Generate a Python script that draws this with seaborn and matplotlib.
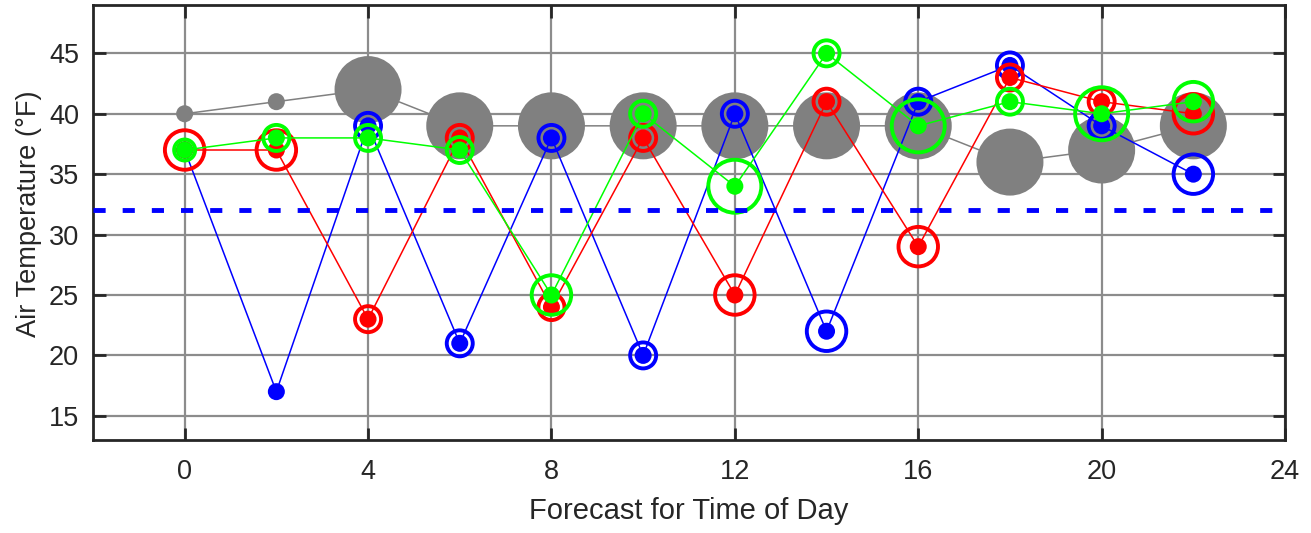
import numpy as np
import pandas as pd
import matplotlib
matplotlib.use("Agg")
import matplotlib.pyplot as plt
import seaborn as sns

# ---- data ----
hours = [0, 2, 4, 6, 8, 10, 12, 14, 16, 18, 20, 22]

gray_temp = [40, 41, 42, 39, 39, 39, 39, 39, 39, 36, 37, 39]
gray_size = [1, 1, 4, 4, 4, 4, 4, 4, 4, 4, 4, 4]

red_temp = [37, 37, 23, 38, 24, 38, 25, 41, 29, 43, 41, 40]
red_ring = [3, 3, 2, 2, 2, 2, 3, 2, 3, 2, 2, 3]

blue_temp = [37, 17, 39, 21, 38, 20, 40, 22, 41, 44, 39, 35]
blue_ring = [0, 0, 2, 2, 2, 2, 2, 3, 2, 2, 2, 3]

green_temp = [37, 38, 38, 37, 25, 40, 34, 45, 39, 41, 40, 41]
green_ring = [1.6, 2, 2, 2, 3, 2, 4, 2, 4, 2, 4, 3]

freezing = 32

x_ticks = [0, 4, 8, 12, 16, 20, 24]
y_ticks = [15, 20, 25, 30, 35, 40, 45]

# ---- style ----
sns.set_theme(style="white")
plt.rcParams["font.family"] = ["Liberation Sans", "DejaVu Sans"]
TXT = "#262626"

fig = plt.figure(figsize=(13.11, 5.33), dpi=100)
ax = fig.add_axes([0.0709, 0.1745, 0.9093, 0.8161])

PX = 0.72  # points per pixel


def ring_area(level):
    # ring diameter in pixels by level
    diam = {0: 0, 1: 0, 1.6: 21, 2: 26, 3: 39.5, 4: 53}[level]
    return (diam * PX) ** 2


def gray_area(level):
    diam = {1: 17, 4: 67}[level]
    return (diam * PX) ** 2


DOT = (17 * PX) ** 2

# gray series
sns.lineplot(x=hours, y=gray_temp, color="#808080", lw=1.1, ax=ax,
             sort=False, zorder=2)
sns.scatterplot(x=hours, y=gray_temp, s=[gray_area(v) for v in gray_size],
                color="#808080", edgecolor="none", linewidth=0, ax=ax,
                zorder=3)

series = [
    (blue_temp, blue_ring, "#0000ff"),
    (red_temp, red_ring, "#ff0000"),
    (green_temp, green_ring, "#00ff00"),
]
z = 4
for temps, rings, col in series:
    sns.lineplot(x=hours, y=temps, color=col, lw=1.1, ax=ax, sort=False,
                 zorder=z)
    sns.scatterplot(x=hours, y=temps, s=DOT, color=col, edgecolor="none",
                    linewidth=0, ax=ax, zorder=z + 1)
    sns.scatterplot(x=hours, y=temps, s=[ring_area(v) for v in rings],
                    facecolor="none", edgecolor=col, linewidth=2.8, ax=ax,
                    zorder=z + 2)
    z += 3

ax.axhline(freezing, color="#0000ff", lw=3.5, ls=(0, (2.5, 3.5)),
           dash_capstyle="butt", zorder=20)

ax.set_xlim(-2, 24)
ax.set_ylim(13, 49)
ax.set_xticks(x_ticks)
ax.set_yticks(y_ticks)
ax.grid(True, color="#8c8c8c", lw=1.6)
ax.set_axisbelow(True)

for sp in ax.spines.values():
    sp.set_color(TXT)
    sp.set_linewidth(2.0)
    sp.set_visible(True)

ax.tick_params(axis="both", which="both", direction="in", length=9,
               width=2.0, color=TXT, labelsize=19.5, labelcolor=TXT,
               top=True, right=True, bottom=True, left=True)
ax.tick_params(axis="x", pad=14)
ax.tick_params(axis="y", pad=10)

ax.set_xlabel("Forecast for Time of Day", fontsize=21, color=TXT,
              labelpad=8)
ax.set_ylabel("Air Temperature (°F)", fontsize=19.6, color=TXT, labelpad=5)
ax.yaxis.label.set_y(0.52)

fig.savefig("out.png", dpi=100)
